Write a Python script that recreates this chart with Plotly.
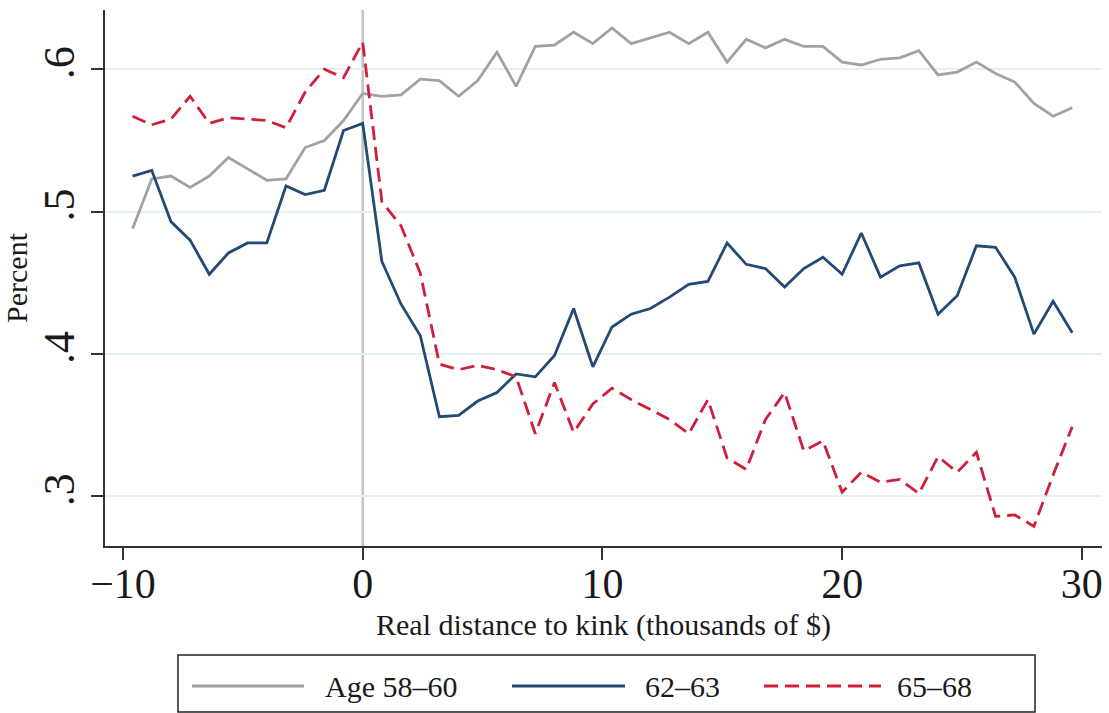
import plotly.graph_objects as go

# Distance to the kink, bin centres (thousands of $)
distance = [-9.6, -8.8, -8.0, -7.2, -6.4, -5.6, -4.8, -4.0, -3.2, -2.4, -1.6, -0.8, 0.0,
            0.8, 1.6, 2.4, 3.2, 4.0, 4.8, 5.6, 6.4, 7.2, 8.0, 8.8, 9.6, 10.4, 11.2,
            12.0, 12.8, 13.6, 14.4, 15.2, 16.0, 16.8, 17.6, 18.4, 19.2, 20.0, 20.8,
            21.6, 22.4, 23.2, 24.0, 24.8, 25.6, 26.4, 27.2, 28.0, 28.8, 29.6]

age_58_60 = [0.488, 0.523, 0.525, 0.517, 0.525, 0.538, 0.530, 0.522, 0.523, 0.545, 0.550, 0.564, 0.583,
             0.581, 0.582, 0.593, 0.592, 0.581, 0.592, 0.612, 0.588, 0.616, 0.617, 0.626, 0.618,
             0.629, 0.618, 0.622, 0.626, 0.618, 0.626, 0.605, 0.621, 0.615, 0.621, 0.616, 0.616,
             0.605, 0.603, 0.607, 0.608, 0.613, 0.596, 0.598, 0.605, 0.597, 0.591, 0.576, 0.567, 0.573]

age_62_63 = [0.525, 0.529, 0.493, 0.480, 0.456, 0.471, 0.478, 0.478, 0.518, 0.512, 0.515, 0.557, 0.562,
             0.465, 0.435, 0.413, 0.356, 0.357, 0.367, 0.373, 0.386, 0.384, 0.399, 0.432, 0.391,
             0.419, 0.428, 0.432, 0.440, 0.449, 0.451, 0.478, 0.463, 0.460, 0.447, 0.460, 0.468,
             0.456, 0.485, 0.454, 0.462, 0.464, 0.428, 0.441, 0.476, 0.475, 0.454, 0.414, 0.437, 0.415]

age_65_68 = [0.567, 0.561, 0.565, 0.581, 0.562, 0.566, 0.565, 0.564, 0.559, 0.584, 0.600, 0.594, 0.619,
             0.507, 0.490, 0.457, 0.393, 0.389, 0.392, 0.389, 0.384, 0.344, 0.380, 0.345, 0.365,
             0.376, 0.368, 0.361, 0.354, 0.344, 0.368, 0.327, 0.319, 0.354, 0.373, 0.332, 0.339,
             0.303, 0.317, 0.310, 0.312, 0.302, 0.328, 0.317, 0.331, 0.286, 0.287, 0.279, 0.315, 0.349]

series_names = ["Age 58\u201360", "62\u201363", "65\u201368"]
x_ticks = [-10, 0, 10, 20, 30]
x_tick_text = ["\u221210", "0", "10", "20", "30"]
y_ticks = [0.3, 0.4, 0.5, 0.6]
y_tick_text = [".3", ".4", ".5", ".6"]

GRAY = "#a2a2a5"
BLUE = "#234a74"
RED = "#cf1f3a"
SERIF = "Liberation Serif, Times New Roman, serif"
LINE_W = 2.8
RED_DASH = "14px,7px"

fig = go.Figure()
for name, ys, color, dash in [
    (series_names[0], age_58_60, GRAY, "solid"),
    (series_names[1], age_62_63, BLUE, "solid"),
    (series_names[2], age_65_68, RED, RED_DASH),
]:
    fig.add_trace(go.Scatter(
        x=distance, y=ys, mode="lines", name=name,
        line=dict(color=color, width=LINE_W, dash=dash),
        showlegend=False,
    ))

# kink marker at zero distance
fig.add_shape(type="line", xref="x", yref="paper", x0=0, x1=0, y0=0, y1=1,
              line=dict(color="#c2c2c2", width=2.5), layer="below")

# boxed legend underneath the axis title
legend_items = [
    (series_names[0], GRAY, "solid", 0.0873, 0.1996, 0.2187),
    (series_names[1], BLUE, "solid", 0.4082, 0.5216, 0.5396),
    (series_names[2], RED, RED_DASH, 0.6610, 0.7783, 0.7924),
]
fig.add_shape(type="rect", xref="paper", yref="paper",
              x0=0.0732, x1=0.9328, y0=-0.2034, y1=-0.3097,
              line=dict(color="#222222", width=1.5), fillcolor="white")
legend_y = -0.2612
for label, color, dash, lx0, lx1, tx in legend_items:
    fig.add_shape(type="line", xref="paper", yref="paper",
                  x0=lx0, x1=lx1, y0=legend_y, y1=legend_y,
                  line=dict(color=color, width=LINE_W, dash=dash))
    fig.add_annotation(xref="paper", yref="paper", x=tx, y=legend_y,
                       text=label, showarrow=False, xanchor="left", yanchor="middle",
                       font=dict(family=SERIF, size=30, color="#1a1a1a"))

fig.update_layout(
    width=1109, height=713,
    margin=dict(l=105, r=7, t=10, b=167),
    paper_bgcolor="white", plot_bgcolor="white",
    font=dict(family=SERIF, color="#1a1a1a"),
    xaxis=dict(
        range=[-10.75, 30.84],
        tickvals=x_ticks, ticktext=x_tick_text,
        tickfont=dict(family=SERIF, size=42, color="#1a1a1a"),
        ticks="outside", ticklen=12, tickwidth=1.5, tickcolor="#333333",
        ticklabelstandoff=-12,
        showline=True, linecolor="#333333", linewidth=1.5,
        showgrid=False, zeroline=False,
        title=dict(text="Real distance to kink (thousands of $)",
                   font=dict(family=SERIF, size=30, color="#1a1a1a"), standoff=8),
        automargin=False,
    ),
    yaxis=dict(
        range=[0.2652, 0.6416],
        tickvals=y_ticks, ticktext=y_tick_text, tickangle=-90,
        tickfont=dict(family=SERIF, size=44, color="#1a1a1a"),
        ticks="outside", ticklen=12, tickwidth=1.5, tickcolor="#333333",
        showline=True, linecolor="#333333", linewidth=1.5,
        showgrid=True, gridcolor="#e6f0f2", gridwidth=2,
        zeroline=False,
        title=dict(text="Percent", font=dict(family=SERIF, size=30, color="#1a1a1a"), standoff=8),
        automargin=False,
    ),
)

fig.write_html("out.html")
